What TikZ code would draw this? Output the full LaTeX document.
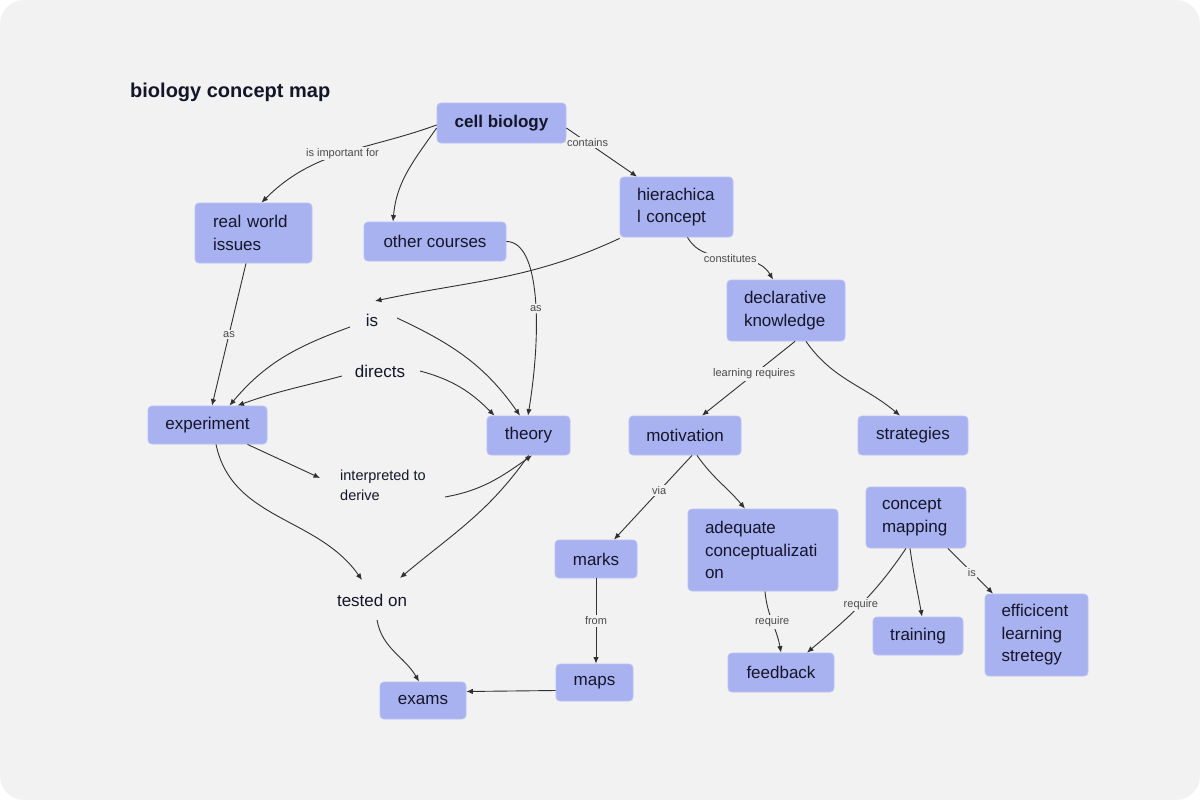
\documentclass[tikz,border=0pt]{standalone}
\usepackage{fontspec}
\setmainfont{Liberation Sans}
\usetikzlibrary{arrows.meta,calc}
\definecolor{bg}{HTML}{F2F2F2}
\definecolor{boxfill}{RGB}{168,178,240}
\definecolor{boxline}{RGB}{184,193,244}
\definecolor{edge}{HTML}{303030}
\definecolor{labgray}{HTML}{4A4A4A}
\definecolor{txt}{HTML}{15152A}
\begin{document}
\begin{tikzpicture}[x=1pt,y=1pt,
  box/.style 2 args={draw=boxline, line width=0.8pt, fill=boxfill, rounded corners=4pt,
    text=txt, font=\fontsize{17}{22.5}\selectfont, inner sep=0pt,
    minimum width=#1pt, minimum height=#2pt},
  mbox/.style n args={3}{box={#1}{#2}, text width=#3pt, align=left},
  plain/.style={text=txt, font=\fontsize{17}{20}\selectfont, inner sep=0pt},
  lab/.style={font=\fontsize{11}{13}\selectfont, text=labgray, fill=bg, inner sep=1.5pt},
  conn/.style={draw=edge, line width=0.9pt, -{Latex[length=6.5pt,width=5.5pt]}}
]
\fill[white] (0,0) rectangle (1200,-800);
\fill[bg, rounded corners=24pt] (0,0) rectangle (1200,-800);
\useasboundingbox (0,0) rectangle (1200,-800);

\node[anchor=west, font=\bfseries\fontsize{20}{24}\selectfont, text=txt, inner sep=0pt] (title) at (130,-92) {biology concept map};

% concept boxes
\node[box={129}{40}, font=\bfseries\fontsize{17}{22.5}\selectfont] (cb) at (501.5,-123) {cell biology};
\node[mbox={113}{60}{79}] (hc) at (676.5,-207) {hierachica\\l concept};
\node[mbox={117}{60}{81}] (rw) at (253.5,-233) {real world\\issues};
\node[box={142}{39}] (oc) at (435,-241.5) {other courses};
\node[mbox={118}{61}{84}] (dk) at (786,-310.5) {declarative\\knowledge};
\node[box={119}{38}] (exp) at (207.5,-425) {experiment};
\node[box={83}{39}] (th) at (528.5,-435.5) {theory};
\node[box={112}{39}] (mot) at (685,-435.5) {motivation};
\node[box={110}{39}] (str) at (913,-435.5) {strategies};
\node[mbox={100}{61}{68}] (cm) at (916,-517.5) {concept\\mapping};
\node[mbox={150}{82}{116}] (aq) at (763,-550) {adequate\\conceptualizati\\on};
\node[box={82}{38}] (mk) at (596,-559) {marks};
\node[mbox={103}{82}{70}] (ef) at (1036.5,-635) {efficicent\\learning\\stretegy};
\node[box={90}{38}] (tr) at (918,-636) {training};
\node[box={106}{39}] (fb) at (781,-672.5) {feedback};
\node[box={77}{37}] (mp) at (594.5,-682.5) {maps};
\node[box={86}{37}] (ex) at (423,-700.5) {exams};

% free text nodes
\node[plain] (is) at (372,-320) {is};
\node[plain] (dir) at (380,-371) {directs};
\node[plain] (tst) at (372,-600) {tested on};
\node[plain, anchor=west, align=left, font=\fontsize{14.5}{19.5}\selectfont] (interp) at (340,-485.5) {interpreted to\\derive};

% connectors
\draw[conn] ([yshift=-2]cb.west) to[out=200,in=45] node[lab,pos=0.5]{is important for} ([xshift=8]rw.north);
\draw[conn] ([yshift=-5]cb.west) to[out=235,in=85] ([xshift=-42]oc.north);
\draw[conn] ([yshift=-5]cb.east) -- node[lab,pos=0.3]{contains} ([xshift=-39.5]hc.north);
\draw[conn] ([xshift=-7.5]rw.south) -- node[lab]{as} ([xshift=4.5]exp.north);
\draw[conn] (oc.east) .. controls (540,-241.5) and (542,-330) .. node[lab,pos=0.56]{as} ([xshift=-0.5]th.north);
\draw[conn] ([yshift=-1]hc.south west) to[out=205,in=12] ([shift={(3,19)}]is.center);
\draw[conn] ([xshift=11]hc.south) to[out=-60,in=120] node[lab]{constitutes} ([xshift=-13]dk.north);
\draw[conn] ([shift={(-22,-7)}]is.center) to[out=200,in=50] ([xshift=22]exp.north);
\draw[conn] ([shift={(25,2)}]is.center) to[out=-25,in=125] ([xshift=-8.5]th.north);
\draw[conn] ([shift={(-38,-5)}]dir.center) to[out=195,in=20] ([xshift=30]exp.north);
\draw[conn] ([shift={(40,0)}]dir.center) to[out=-15,in=135] ([xshift=-34]th.north);
\draw[conn] ([xshift=40]exp.south) -- ([shift={(-20,7.5)}]interp.west);
\draw[conn] ([shift={(105,-11.5)}]interp.west) to[out=10,in=215] ([xshift=3.5]th.south);
\draw[conn] ([xshift=8.5]exp.south) to[out=-78,in=125] ([shift={(-10,20)}]tst.center);
\draw[conn] (th.south) to[out=235,in=40] ([shift={(28,22)}]tst.center);
\draw[conn] ([shift={(5,-20)}]tst.center) to[out=-80,in=120] ([xshift=-4]ex.north);
\draw[conn] ([yshift=-8]mp.west) -- ([yshift=9]ex.east);
\draw[conn] (mk.south) -- node[lab]{from} (mk.south |- mp.north);
\draw[conn] ([xshift=9]dk.south) -- node[lab,pos=0.44]{learning requires} ([xshift=17]mot.north);
\draw[conn] ([xshift=20]dk.south) to[out=-55,in=140] ([xshift=-13]str.north);
\draw[conn] ([xshift=7]mot.south) -- node[lab,pos=0.42]{via} ([xshift=18]mk.north);
\draw[conn] ([xshift=12]mot.south) to[out=-55,in=130] ([xshift=-18]aq.north);
\draw[conn] ([xshift=2]aq.south) to[out=-85,in=100] node[lab]{require} (fb.north);
\draw[conn] ([xshift=-10]cm.south) to[out=236,in=40] node[lab]{require} ([xshift=26]fb.north);
\draw[conn] ([xshift=-6]cm.south) to[out=-82,in=100] ([xshift=4]tr.north);
\draw[conn] ([xshift=32]cm.south) -- node[lab,pos=0.53]{is} ([xshift=-43.5]ef.north);
\end{tikzpicture}
\end{document}
